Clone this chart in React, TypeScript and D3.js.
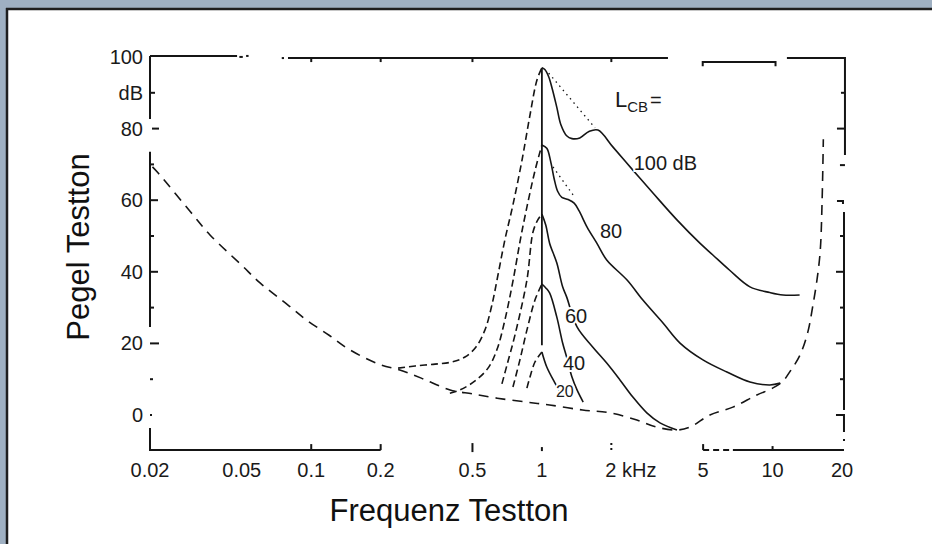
import React from 'react';
import * as d3 from 'd3';

const W = 932;
const H = 544;

// ---------- data ----------
const xTickValues = [0.02, 0.05, 0.1, 0.2, 0.5, 1, 2, 5, 10, 20];
const xTickLabels = ['0.02', '0.05', '0.1', '0.2', '0.5', '1', '2 kHz', '5', '10', '20'];
const yTickValues = [0, 20, 40, 60, 80, 100];
const yTickLabels = ['0', '20', '40', '60', '80', '100'];

// threshold in quiet (kHz, dB)
const thresholdFreq = [0.0205, 0.0217, 0.03, 0.0364, 0.05, 0.06, 0.08, 0.0955, 0.12, 0.147, 0.2, 0.242, 0.3, 0.4, 0.5, 0.64, 0.86, 1.08, 1.5, 1.97, 2.58, 3.15, 3.85, 4.38, 5.35, 6.73, 8.55, 10.0, 11.1, 12.0, 13.1, 14.2, 14.9, 15.6, 16.1, 16.4, 16.6];
const thresholdLevel = [69.3, 67.6, 56.7, 50.3, 41.8, 36.9, 30.5, 26.5, 22.2, 18.2, 14.0, 12.6, 10.3, 7.0, 5.9, 4.7, 3.6, 2.8, 1.4, 0.6, -1.4, -3.4, -4.2, -3.4, 0.0, 2.2, 5.6, 7.5, 9.5, 12.5, 16.5, 23.0, 30.0, 38.0, 46.0, 60.0, 77.0];

// masking curves, L_CB = 100 dB
const mask100LowerFreq = [0.238, 0.282, 0.344, 0.407, 0.464, 0.518, 0.566, 0.607, 0.645, 0.691, 0.749, 0.82, 0.888, 0.952, 1.0];
const mask100LowerLevel = [13.1, 13.7, 14.2, 14.8, 16.2, 19.0, 23.7, 30.7, 39.1, 48.9, 58.7, 71.2, 83.8, 93.6, 97.0];
const mask100UpperFreq = [1.0, 1.03, 1.07, 1.11, 1.16, 1.21, 1.28, 1.35, 1.46, 1.6, 1.75, 2.03, 2.48, 3.03, 3.85, 4.84, 5.51, 6.5, 7.98, 9.73, 11.1, 13.1];
const mask100UpperLevel = [97.0, 96.5, 94.5, 91.0, 86.0, 81.0, 78.0, 77.2, 77.4, 79.2, 79.6, 74.9, 68.4, 62.0, 54.5, 48.0, 44.7, 40.5, 35.8, 34.2, 33.5, 33.5];
// L_CB = 80 dB
const mask80LowerFreq = [0.399, 0.441, 0.513, 0.584, 0.638, 0.691, 0.749, 0.82, 0.933, 1.0];
const mask80LowerLevel = [6.1, 7.0, 9.5, 13.1, 18.2, 26.5, 37.4, 51.4, 68.2, 75.4];
const mask80UpperFreq = [1.0, 1.05, 1.09, 1.13, 1.17, 1.22, 1.3, 1.38, 1.45, 1.57, 1.73, 1.91, 2.34, 2.74, 3.35, 3.97, 4.99, 6.34, 7.98, 9.73, 10.8];
const mask80UpperLevel = [75.4, 74.5, 71.0, 66.0, 62.5, 60.8, 60.2, 59.2, 57.0, 52.5, 48.0, 43.3, 37.7, 32.1, 25.7, 20.1, 15.4, 12.0, 9.2, 8.4, 8.9];
// L_CB = 60 dB
const mask60LowerFreq = [0.671, 0.706, 0.764, 0.861, 0.915, 0.96, 1.0];
const mask60LowerLevel = [8.7, 14.0, 22.3, 37.7, 51.1, 54.5, 56.1];
const mask60UpperFreq = [1.0, 1.04, 1.08, 1.16, 1.23, 1.28, 1.42, 1.66, 1.91, 2.18, 2.48, 2.85, 3.25, 3.85];
const mask60UpperLevel = [56.1, 53.0, 48.0, 42.5, 35.8, 33.0, 24.6, 19.0, 14.5, 9.8, 5.0, 0.6, -2.2, -4.2];
// L_CB = 40 dB
const mask40LowerFreq = [0.749, 0.803, 0.861, 0.933, 1.0];
const mask40LowerLevel = [7.8, 15.4, 23.7, 32.1, 36.6];
const mask40UpperFreq = [1.0, 1.04, 1.08, 1.16, 1.23, 1.28, 1.35, 1.42, 1.51];
const mask40UpperLevel = [36.6, 35.5, 34.1, 27.4, 20.1, 16.2, 10.6, 7.0, 3.6];
// L_CB = 20 dB
const mask20LowerFreq = [0.861, 0.888, 0.933, 1.0];
const mask20LowerLevel = [7.5, 10.6, 14.8, 17.6];
const mask20UpperFreq = [1.0, 1.05, 1.14, 1.2, 1.24];
const mask20UpperLevel = [17.6, 13.4, 8.9, 6.4, 5.0];

// dotted extrapolations of the upper slopes
const dotted100Freq = [1.07, 1.7];
const dotted100Level = [95.5, 80.2];
const dotted80Freq = [1.117, 1.364];
const dotted80Level = [69.3, 61.5];

// masker centre frequency line
const maskerFreq = [1.0, 1.0];
const maskerLevel = [97.0, 19.5];

// curve labels (text, anchor frequency, level)
const curveLabelText = ['100 dB', '80', '60', '40', '20'];
const curveLabelFreq = [2.5, 1.785, 1.259, 1.234, 1.15];
const curveLabelLevel = [68.4, 49.4, 25.7, 12.6, 5.0];

const FONT = "'Liberation Sans', Arial, Helvetica, sans-serif";
const INK = '#151515';

export default function App() {
  const x = d3.scaleLog().domain([0.02, 20]).range([150, 842]);
  const y = d3.scaleLinear().domain([0, 100]).range([415, 57]);
  const zip = (f: number[], l: number[]) => f.map((v, i) => [v, l[i]] as [number, number]);
  const curve = d3
    .line<[number, number]>()
    .x((d) => x(d[0]))
    .y((d) => y(d[1]))
    .curve(d3.curveCatmullRom.alpha(0.5));
  const straight = d3
    .line<[number, number]>()
    .x((d) => x(d[0]))
    .y((d) => y(d[1]));

  const lowers = [
    zip(mask100LowerFreq, mask100LowerLevel),
    zip(mask80LowerFreq, mask80LowerLevel),
    zip(mask60LowerFreq, mask60LowerLevel),
    zip(mask40LowerFreq, mask40LowerLevel),
    zip(mask20LowerFreq, mask20LowerLevel),
  ];
  const uppers = [
    zip(mask100UpperFreq, mask100UpperLevel),
    zip(mask80UpperFreq, mask80UpperLevel),
    zip(mask60UpperFreq, mask60UpperLevel),
    zip(mask40UpperFreq, mask40UpperLevel),
    zip(mask20UpperFreq, mask20UpperLevel),
  ];

  // axis geometry
  const xl = x(0.02);
  const yb = y(-9.8);
  const yTop = y(100.3);
  const yTop2 = y(99.7);
  const xr = x(20.6);
  const xr2 = x(20.4);

  const ax = { stroke: INK, strokeWidth: 2, fill: 'none' } as const;

  const leftSegs: [number, number][] = [
    [100.3, 82.7],
    [73.5, 24.6],
    [-3.6, -9.8],
  ];
  const leftTicks: [number, number][] = [
    [90, 5],
    [70, 4],
    [60, 8],
    [50, 4],
    [40, 8],
    [30, 4],
  ];
  const rightTicksUpper: [number, number][] = [
    [90, 4],
    [80, 8],
  ];
  const rightTicksLower: [number, number][] = [
    [50, 4],
    [40, 8],
    [30, 4],
    [20, 8],
    [10, 4],
  ];

  const textStyle = { fontFamily: FONT, fill: '#1a1a1a' } as const;

  return (
    <div style={{ position: 'absolute', left: 0, top: 0, width: W, height: H, overflow: 'hidden' }}>
      <svg width={W} height={H} style={{ display: 'block' }}>
        <rect x={0} y={0} width={W} height={H} fill="#9fb0c2" />
        <rect x={7} y={9} width={W} height={H} fill="#ffffff" />
        <line x1={7} x2={7} y1={8} y2={H} stroke="#1e1e1e" strokeWidth={2.5} />
        <line x1={6} x2={W} y1={9} y2={9} stroke="#1e1e1e" strokeWidth={2.5} />

        {/* left axis */}
        {leftSegs.map(([a, b], i) => (
          <line key={'ls' + i} x1={xl} x2={xl} y1={y(a)} y2={y(b)} {...ax} />
        ))}
        {leftTicks.map(([v, len], i) => (
          <line key={'lt' + i} x1={xl} x2={xl + len} y1={y(v)} y2={y(v)} {...ax} />
        ))}
        <line x1={xl + 2} x2={xl + 9} y1={y(80)} y2={y(80)} {...ax} />
        <line x1={xl} x2={xl + 9} y1={y(20)} y2={y(20)} {...ax} />
        <line x1={xl} x2={xl + 3} y1={y(10)} y2={y(10)} {...ax} />
        <line x1={xl} x2={xl + 2} y1={y(0)} y2={y(0)} {...ax} />

        {/* bottom axis */}
        <line x1={xl - 1} x2={x(0.2)} y1={yb} y2={yb} {...ax} />
        <line x1={x(0.1)} x2={x(0.1)} y1={yb} y2={yb - 6} {...ax} />
        <line x1={x(0.2)} x2={x(0.2)} y1={yb} y2={yb - 6} {...ax} />
        <line x1={x(0.5)} x2={x(0.5)} y1={yb - 7} y2={yb + 2} {...ax} />
        <line x1={x(1)} x2={x(1)} y1={yb - 3} y2={yb + 1} {...ax} />
        <line x1={x(2)} x2={x(2)} y1={yb - 7} y2={yb + 2} {...ax} strokeDasharray="2,3" />
        <line x1={x(5)} x2={x(5)} y1={yb} y2={yb - 6} {...ax} />
        <line x1={x(5)} x2={x(6.73)} y1={yb} y2={yb} {...ax} strokeDasharray="6,4" />
        <line x1={x(6.73)} x2={xr2} y1={yb} y2={yb} {...ax} />
        <line x1={x(10)} x2={x(10)} y1={yb} y2={yb - 4} {...ax} />

        {/* top axis */}
        <line x1={xl} x2={x(0.0477)} y1={yTop} y2={yTop} {...ax} />
        <line x1={x(0.0488)} x2={x(0.0505)} y1={yTop + 1} y2={yTop + 1} {...ax} />
        <line x1={x(0.0522)} x2={x(0.0535)} y1={yTop} y2={yTop} {...ax} />
        <line x1={x(0.0745)} x2={x(0.0762)} y1={yTop2} y2={yTop2} {...ax} />
        <line x1={x(0.0793)} x2={x(3.52)} y1={yTop2} y2={yTop2} {...ax} />
        {[0.1, 0.2, 0.5, 2].map((v) => (
          <line key={'tt' + v} x1={x(v)} x2={x(v)} y1={yTop2} y2={yTop2 + 4} {...ax} />
        ))}
        <path d={`M${x(4.98)},${y(97.4)}V${y(98.6)}H${x(10.3)}V${y(97.4)}`} {...ax} />
        <path d={`M${x(11.54)},${yTop2}H${xr}V${y(72.6)}`} {...ax} />

        {/* right axis */}
        {rightTicksUpper.map(([v, len], i) => (
          <line key={'ru' + i} x1={xr} x2={xr - len} y1={y(v)} y2={y(v)} {...ax} />
        ))}
        <line x1={xr - 5} x2={xr} y1={y(69.8)} y2={y(69.8)} {...ax} />
        <path d={`M${xr2 - 7},${y(59.8)}H${xr2 - 1}V${y(59.8) + 3}`} {...ax} />
        <line x1={xr2} x2={xr2} y1={y(56.7)} y2={y(1.4)} {...ax} />
        {rightTicksLower.map(([v, len], i) => (
          <line key={'rl' + i} x1={xr2} x2={xr2 - len} y1={y(v)} y2={y(v)} {...ax} />
        ))}
        <path d={`M${xr2 - 8},${y(0)}H${xr2}V${y(0) + 17}`} {...ax} />
        <line x1={xr2} x2={xr2} y1={y(0) + 24} y2={y(0) + 26} {...ax} />

        {/* threshold in quiet */}
        <path d={curve(zip(thresholdFreq, thresholdLevel)) || ''} fill="none" stroke={INK} strokeWidth={1.6} strokeDasharray="10,7" />

        {/* masking curves */}
        {lowers.map((pts, i) => (
          <path key={'lo' + i} d={curve(pts) || ''} fill="none" stroke={INK} strokeWidth={1.6} strokeDasharray="7,4" />
        ))}
        {uppers.map((pts, i) => (
          <path key={'up' + i} d={curve(pts) || ''} fill="none" stroke={INK} strokeWidth={1.6} />
        ))}
        <path d={straight(zip(dotted100Freq, dotted100Level)) || ''} fill="none" stroke={INK} strokeWidth={1.3} strokeDasharray="1.5,4" />
        <path d={straight(zip(dotted80Freq, dotted80Level)) || ''} fill="none" stroke={INK} strokeWidth={1.3} strokeDasharray="1.5,4" />
        <path d={straight(zip(maskerFreq, maskerLevel)) || ''} fill="none" stroke={INK} strokeWidth={1.8} />

        {/* curve labels */}
        {curveLabelText.map((t, i) => (
          <text
            key={'cl' + i}
            x={x(curveLabelFreq[i])}
            y={y(curveLabelLevel[i])}
            fontSize={i === 4 ? 16 : 20}
            stroke="#fff"
            strokeWidth={4}
            paintOrder="stroke"
            {...textStyle}
          >
            {t}
          </text>
        ))}
        <text x={x(2.073)} y={y(86)} fontSize={22} {...textStyle}>
          L
          <tspan fontSize={15} dy={5}>
            CB
          </tspan>
          <tspan fontSize={20} dy={-5} dx={2}>
            =
          </tspan>
        </text>

        {/* y tick labels */}
        {yTickValues.map((v, i) => (
          <text key={'yl' + v} x={143} y={y(v) + 7} fontSize={20} textAnchor="end" {...textStyle}>
            {yTickLabels[i]}
          </text>
        ))}
        <text x={143} y={y(90) + 7} fontSize={20} textAnchor="end" {...textStyle}>
          dB
        </text>

        {/* x tick labels */}
        {xTickValues.map((v, i) => (
          <text
            key={'xl' + v}
            x={i === 6 ? x(v) - 6 : x(v)}
            y={yb + 27}
            fontSize={20}
            textAnchor={i === 6 ? 'start' : 'middle'}
            {...textStyle}
          >
            {xTickLabels[i]}
          </text>
        ))}

        {/* axis titles */}
        <text x={449} y={521} fontSize={31} textAnchor="middle" {...textStyle} fill="#111">
          Frequenz Testton
        </text>
        <text transform="translate(89,247) rotate(-90)" fontSize={31} textAnchor="middle" {...textStyle} fill="#111">
          Pegel Testton
        </text>
      </svg>
    </div>
  );
}
